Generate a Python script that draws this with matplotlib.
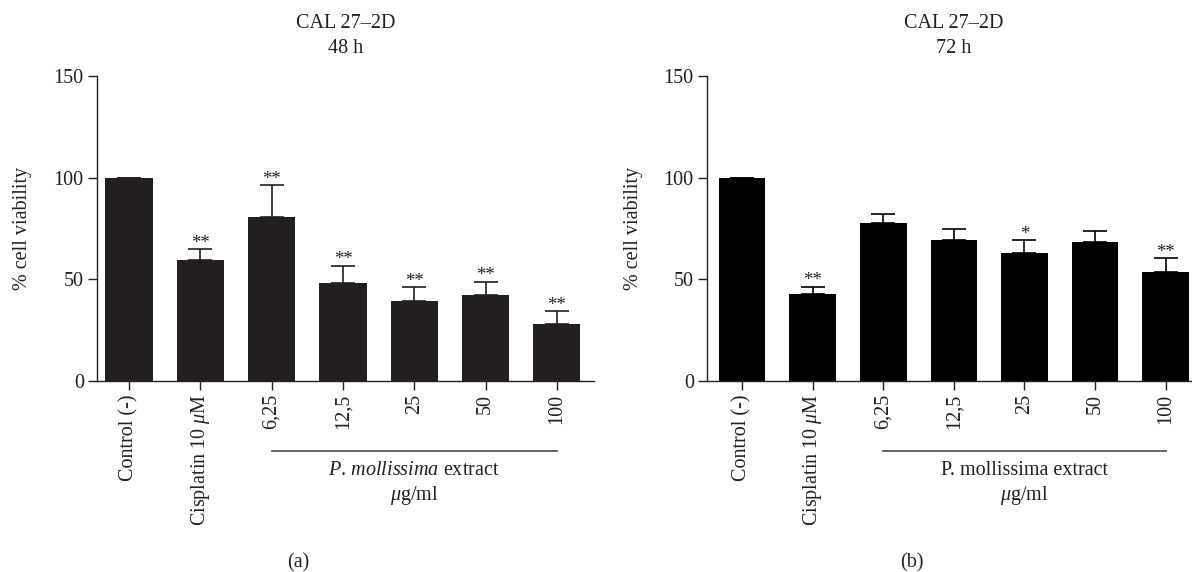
import numpy as np
import matplotlib
matplotlib.use("Agg")
import matplotlib.pyplot as plt

plt.rcParams["font.family"] = ["Liberation Serif", "DejaVu Serif"]
plt.rcParams["mathtext.fontset"] = "custom"
plt.rcParams["mathtext.rm"] = "Liberation Serif"
plt.rcParams["mathtext.it"] = "Liberation Serif:italic"
plt.rcParams["font.size"] = 14.5

INK = "#231f20"

# data
groups = ["Control (-)", r"Cisplatin 10 $\mu$M", "6,25", "12,5", "25", "50", "100"]

viab_48 = [100, 59.4, 80.5, 48.0, 39.5, 42.1, 28.2]
err_48 = [0, 5.5, 15.9, 8.7, 6.7, 6.8, 6.2]
sig_48 = ["", "**", "**", "**", "**", "**", "**"]

viab_72 = [100, 42.9, 77.9, 69.4, 62.8, 68.4, 53.8]
err_72 = [0, 3.5, 4.1, 5.5, 6.4, 5.2, 6.6]
sig_72 = ["", "**", "", "", "*", "", "**"]

W, H = 1192, 572
fig = plt.figure(figsize=(W / 100, H / 100), dpi=100)


def px_ax(x0, x1, y_top=76, y_bot=381):
    return fig.add_axes([x0 / W, 1 - y_bot / H, (x1 - x0) / W, (y_bot - y_top) / H])


def panel(ax, vals, errs, sigs, color, when, extract_label, xlim, tag, tag_x):
    x = np.arange(len(groups))
    ax.bar(x, vals, width=0.66, color=color, zorder=2)
    ax.errorbar(x, vals, yerr=[np.zeros(len(errs)), errs], fmt="none",
                ecolor=color, elinewidth=1.2, capsize=8.6, capthick=1.2, zorder=1)
    for xi, v, e, s in zip(x, vals, errs, sigs):
        if s:
            ax.annotate(s, (xi, v + e), xytext=(0, 1.0), textcoords="offset points",
                        ha="center", va="baseline", fontsize=13.5, color=INK)

    ax.set_ylim(0, 150)
    ax.set_xlim(*xlim)
    ax.set_yticks([0, 50, 100, 150])
    ax.set_xticks(x)
    ax.set_xticklabels(groups, rotation=90)
    ax.tick_params(length=6.5, width=1.0, color=INK, labelcolor=INK, pad=3)
    for side in ["top", "right"]:
        ax.spines[side].set_visible(False)
    for side in ["left", "bottom"]:
        ax.spines[side].set_color(INK)
        ax.spines[side].set_linewidth(1.0)

    ax.set_ylabel("% cell viability", color=INK)
    ax.yaxis.set_label_coords(-0.13, 0.5)

    ax.text(0.5, 1.06, "CAL 27–2D\n" + when, transform=ax.transAxes,
            ha="center", va="bottom", linespacing=1.4, color=INK)

    # bracket under the extract concentrations
    tr = ax.get_xaxis_transform()
    ax.plot([2, 6], [-0.2295, -0.2295], transform=tr, color="#58595b", lw=1.3, clip_on=False)
    ax.text(4, -0.308, extract_label, transform=tr, ha="center", va="baseline", color=INK)
    ax.text(4, -0.39, r"$\mu$g/ml", transform=tr, ha="center", va="baseline", color=INK)

    fig.text(tag_x / W, 1 - 563 / H, tag, ha="center", va="center", color=INK)


ax1 = px_ax(97, 594)
panel(ax1, viab_48, err_48, sig_48, INK, "48 h",
      r"$\mathit{P.\,mollissima}$ extract", (-0.449, 6.52), "(a)", 298)

ax2 = px_ax(707, 1201)
panel(ax2, viab_72, err_72, sig_72, "#000000", "72 h",
      "P. mollissima extract", (-0.495, 6.5), "(b)", 912)

fig.savefig("out.png", dpi=100)
